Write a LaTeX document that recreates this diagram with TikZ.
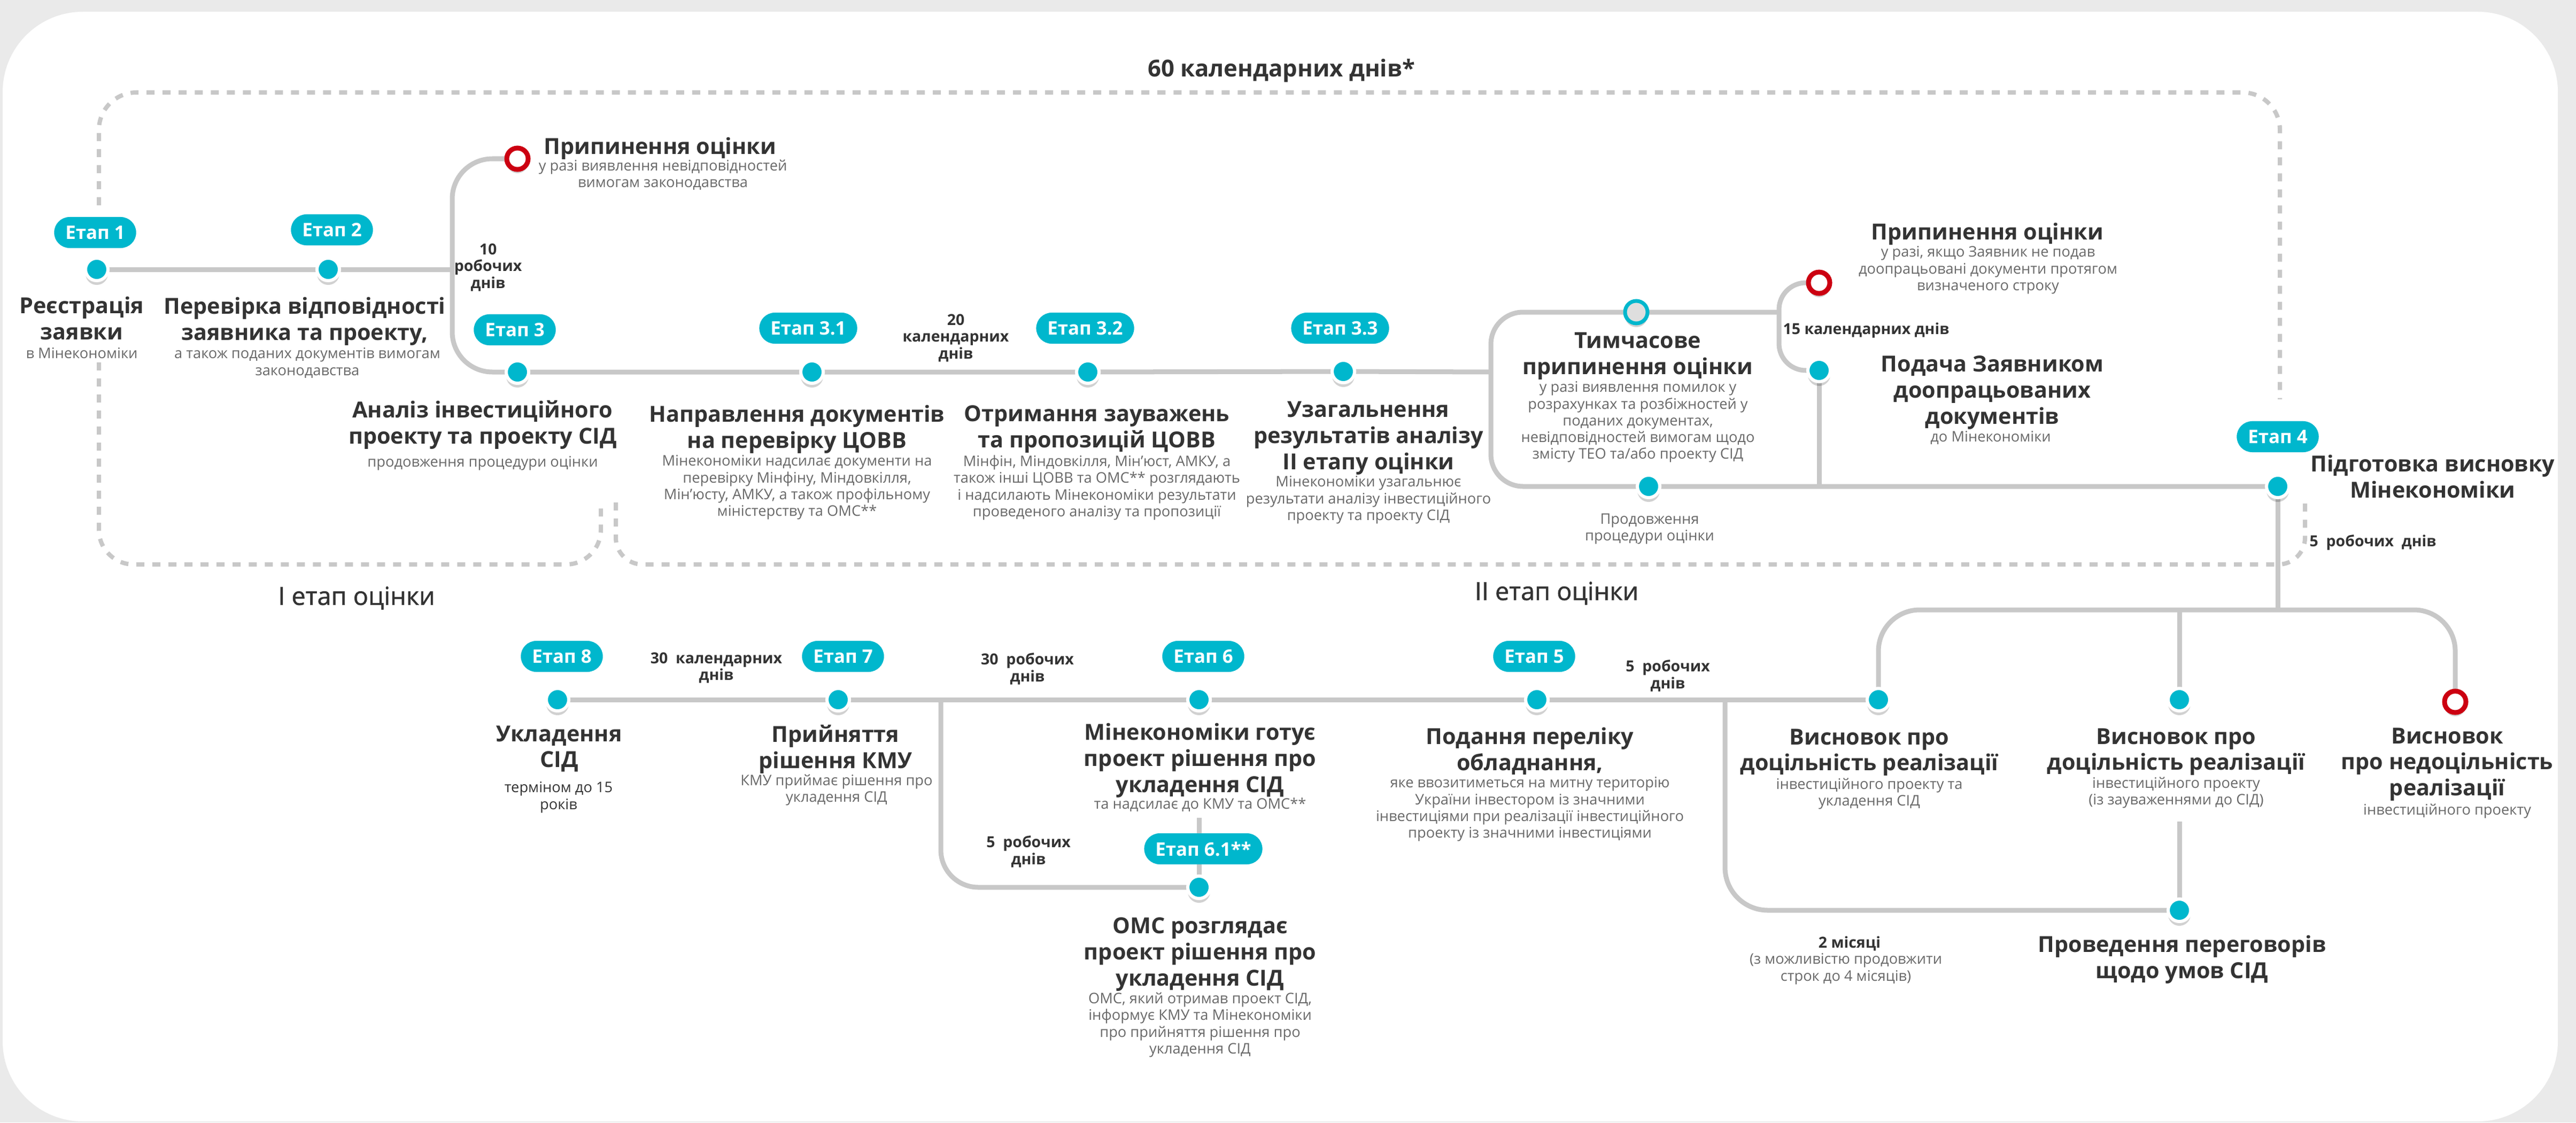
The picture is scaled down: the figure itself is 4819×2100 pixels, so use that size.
\documentclass[tikz,border=0pt]{standalone}
\usepackage{fontspec}
\setmainfont{Open Sans}
\newfontfamily\medfont{Open Sans}[FakeBold=1.2]
\usetikzlibrary{shadows,calc}
\definecolor{etap}{RGB}{0,183,205}
\definecolor{lnc}{RGB}{200,200,200}
\definecolor{dshc}{RGB}{200,200,200}
\definecolor{txt}{RGB}{51,51,51}
\definecolor{subc}{RGB}{105,105,105}
\definecolor{redc}{RGB}{204,0,17}
\definecolor{bgc}{RGB}{234,234,234}
\pgfdeclarelayer{back}\pgfdeclarelayer{bg}
\pgfsetlayers{back,bg,main}
\begin{document}
\begin{tikzpicture}[x=0.01cm,y=-0.01cm,
  dot/.style={circle,fill=etap,draw=white,line width=0.06cm,minimum size=0.42cm,inner sep=0,
    drop shadow={shadow xshift=0cm,shadow yshift=-0.08cm,opacity=0.18,fill=black}},
  rring/.style={circle,fill=white,draw=redc,line width=0.09cm,minimum size=0.40cm,inner sep=0,
    drop shadow={shadow xshift=0cm,shadow yshift=-0.07cm,opacity=0.18,fill=black}},
  tring/.style={circle,fill=black!13,draw=etap,line width=0.07cm,minimum size=0.42cm,inner sep=0,
    drop shadow={shadow xshift=0cm,shadow yshift=-0.07cm,opacity=0.18,fill=black}},
  badge/.style={rectangle,rounded corners=0.29cm,fill=etap,text=white,
    font=\bfseries\fontsize{9.9}{11}\selectfont,minimum height=0.58cm,inner xsep=0.21cm,inner ysep=0},
  ttl/.style={font=\bfseries\fontsize{11.75}{13.9}\selectfont,text=txt,align=center,inner sep=0,
    anchor=north,yshift=9.73pt,execute at begin node=\strut},
  sub/.style={font=\fontsize{7.75}{8.9}\selectfont,text=subc,align=center,inner sep=0,
    anchor=north,yshift=6.23pt,execute at begin node=\strut},
  dsub/.style={sub,text=txt},
  lab/.style={font=\bfseries\fontsize{8.1}{9}\selectfont,text=txt,align=center,inner sep=0,
    anchor=north,yshift=6.3pt,execute at begin node=\strut},
  phase/.style={font=\medfont\fontsize{13.3}{15}\selectfont,text=txt,align=center,inner sep=0,
    anchor=north,yshift=10.5pt,execute at begin node=\strut},
  ln/.style={draw=lnc,line width=0.09cm},
  dsh/.style={draw=dshc,line width=0.08cm,dash pattern=on 0.15cm off 0.15cm}
]
\useasboundingbox (0,0) rectangle (4819,2100);
\begin{pgfonlayer}{back}
  \fill[bgc] (0,0) rectangle (4819,2100);
  \fill[white,rounded corners=1.5cm] (5,22) rectangle (4785,2098);
\end{pgfonlayer}

% ---------- dots ----------
\node[dot] (d1) at (181,504) {};
\node[dot] (d2) at (614,504) {};
\node[dot] (d3) at (968,696) {};
\node[dot] (d31) at (1519,696) {};
\node[dot] (d32) at (2035,696) {};
\node[dot] (d33) at (2513,695) {};
\node[dot] (dtb) at (3084,910) {};
\node[dot] (dpod) at (3403,693) {};
\node[dot] (d4) at (4261,910) {};
\node[dot] (d8) at (1043,1309) {};
\node[dot] (d7) at (1568,1309) {};
\node[dot] (d6) at (2243,1309) {};
\node[dot] (d61) at (2243,1660) {};
\node[dot] (d5) at (2875,1309) {};
\node[dot] (dv1) at (3514,1309) {};
\node[dot] (dv2) at (4077,1309) {};
\node[dot] (dper) at (4077,1703) {};
\node[rring] (r1) at (968,297) {};
\node[rring] (r2) at (3403,529) {};
\node[rring] (r3) at (4593,1313) {};
\node[tring] (rt) at (3061,584) {};

% ---------- junctions ----------
\coordinate (j1) at (846,504);
\coordinate (j2) at (2789,696);
\coordinate (j3) at (3328,584);
\coordinate (bx) at (2789,584);
\coordinate (bxb) at (2789,910);
\coordinate (j4) at (4261,1141);
\coordinate (j6) at (4077,1537);
\coordinate (j7) at (1760,1309);
\coordinate (j8) at (2243,1530);
\coordinate (j9) at (3227,1309);
\coordinate (f1) at (185,384);
\coordinate (f2) at (185,173);
\coordinate (f3) at (4265,173);
\coordinate (f4) at (4265,747);
\coordinate (g1) at (185,678);
\coordinate (g2) at (185,1056);
\coordinate (g3) at (1124,1056);
\coordinate (g4) at (1124,940);
\coordinate (h1) at (1152,940);
\coordinate (h2) at (1152,1056);
\coordinate (h3) at (4312,1056);
\coordinate (h4) at (4312,938);

% ---------- connectors ----------
\begin{pgfonlayer}{bg}
  \draw[ln] (d1.center) -- (d2.center) -- (j1);
  \draw[ln,rounded corners=0.75cm] (r1.center) -- (r1.center -| j1) -- (j1 |- d3.center) -- (d3.center);
  \draw[ln] (d3.center) -- (d31.center) -- (d32.center) -- (d33.center) -- (j2);
  \draw[ln,rounded corners=0.6cm] (j3) -- (bx) -- (bxb) -- (d4.center);
  \draw[ln,rounded corners=0.5cm] (r2.center) -- (r2.center -| j3) -- (j3 |- dpod.center) -- (dpod.center);
  \draw[ln] (dpod.center) -- (dpod.center |- d4.center);
  \draw[ln] (d4.center) -- (j4);
  \draw[ln,rounded corners=0.77cm] (dv1.center) -- (dv1.center |- j4) -- (j4 -| r3.center) -- (r3.center);
  \draw[ln] (dv2.center |- j4) -- (dv2.center);
  \draw[ln] (j6) -- (dper.center);
  \draw[ln] (d8.center) -- (d7.center) -- (d6.center) -- (d5.center) -- (dv1.center);
  \draw[ln,rounded corners=0.7cm] (j7) -- (j7 |- d61.center) -- (d61.center);
  \draw[ln] (j8) -- (d61.center);
  \draw[ln,rounded corners=0.8cm] (j9) -- (j9 |- dper.center) -- (dper.center);
  \draw[dsh,rounded corners=0.7cm] (f1) -- (f2) -- (f3) -- (f4);
  \draw[dsh,rounded corners=0.65cm] (g1) -- (g2) -- (g3) -- (g4);
  \draw[dsh,rounded corners=0.5cm] (h1) -- (h2) -- (h3) -- (h4);
\end{pgfonlayer}

% ---------- badges ----------
\node[badge] (b1) at (178,435) {Етап 1};
\node[badge] (b2) at (621,430) {Етап 2};
\node[badge] (b3) at (963,617) {Етап 3};
\node[badge] (b31) at (1512,614) {Етап 3.1};
\node[badge] (b32) at (2030,614) {Етап 3.2};
\node[badge] (b33) at (2507,614) {Етап 3.3};
\node[badge] (b4) at (4261,817) {Етап 4};
\node[badge] (b8) at (1051,1228) {Етап 8};
\node[badge] (b7) at (1577,1228) {Етап 7};
\node[badge] (b6) at (2251,1228) {Етап 6};
\node[badge] (b61) at (2251,1588) {Етап 6.1**};
\node[badge] (b5) at (2870,1228) {Етап 5};

% ---------- phase labels ----------
\node[phase,font=\bfseries\fontsize{12.4}{15}\selectfont] (p60) at (2397,143) {60 календарних днів*};
\node[phase] (pI) at (667,1131) {I етап оцінки};
\node[phase] (pII) at (2912,1122) {II етап оцінки};

% ---------- titles ----------
\node[ttl] (t1) at (153,589) {Реєстрація\\заявки};
\node[ttl] (t2) at (570,590) {Перевірка відповідності\\заявника та проекту,};
\node[ttl] (t3) at (903,783) {Аналіз інвестиційного\\проекту та проекту СІД};
\node[ttl] (t31) at (1491,792) {Направлення документів\\на перевірку ЦОВВ};
\node[ttl] (t32) at (2052,792) {Отримання зауважень\\та пропозицій ЦОВВ};
\node[ttl] (t33) at (2560,785) {Узагальнення\\результатів аналізу\\II етапу оцінки};
\node[ttl] (tt) at (3064,656) {Тимчасове\\припинення оцінки};
\node[ttl] (tp1) at (1235,288) {Припинення оцінки};
\node[ttl] (tp2) at (3718,448) {Припинення оцінки};
\node[ttl] (tpod) at (3727,699) {Подача Заявником\\доопрацьованих\\документів};
\node[ttl] (t4) at (4551,885) {Підготовка висновку\\Мінекономіки};
\node[ttl] (t8) at (1046,1391) {Укладення\\СІД};
\node[ttl] (t7) at (1563,1390) {Прийняття\\рішення КМУ};
\node[ttl] (t6) at (2245,1387) {Мінекономіки готує\\проект рішення  про\\укладення СІД};
\node[ttl] (t61) at (2245,1750) {ОМС розглядає\\проект рішення про\\укладення СІД};
\node[ttl] (t5) at (2862,1395) {Подання переліку\\обладнання,};
\node[ttl] (tv1) at (3497,1397) {Висновок про\\доцільність реалізації};
\node[ttl] (tv2) at (4071,1396) {Висновок про\\доцільність реалізації};
\node[ttl] (tv3) at (4578,1395) {Висновок\\про недоцільність\\реалізації};
\node[ttl] (tper) at (4082,1784) {Проведення переговорів\\щодо умов СІД};

% ---------- subtitles ----------
\node[sub] (s1) at (153,670) {в Мінекономіки};
\node[sub] (s2) at (575,672) {а також поданих документів вимогам\\законодавства};
\node[sub] (s3) at (903,873) {продовження процедури оцінки};
\node[sub] (s31) at (1491,873) {Мінекономіки надсилає документи на\\перевірку  Мінфіну, Міндовкілля,\\Мін’юсту, АМКУ, а також профільному\\міністерству та ОМС**};
\node[sub] (s32) at (2052,873) {Мінфін, Міндовкілля, Мін’юст, АМКУ, а\\також інші ЦОВВ та ОМС** розглядають\\і надсилають Мінекономіки результати\\проведеного аналізу та пропозиції};
\node[sub] (s33) at (2560,912) {Мінекономіки узагальнює\\результати аналізу інвестиційного\\проекту та проекту СІД};
\node[sub] (st) at (3064,735) {у разі виявлення  помилок у\\розрахунках та розбіжностей у\\поданих документах,\\невідповідностей вимогам щодо\\змісту ТЕО та/або проекту СІД};
\node[sub] (sprod) at (3086,982) {Продовження\\процедури оцінки};
\node[sub] (sp1) at (1240,320) {у разі виявлення невідповідностей\\вимогам законодавства};
\node[sub] (sp2) at (3719,482) {у разі, якщо Заявник не подав\\доопрацьовані  документи протягом\\визначеного строку};
\node[sub] (spod) at (3724,826) {до Мінекономіки};
\node[dsub] (s8) at (1045,1484) {терміном до 15\\років};
\node[sub] (s7) at (1565,1470) {КМУ приймає рішення про\\укладення СІД};
\node[sub] (s6) at (2245,1513) {та надсилає до КМУ та ОМС**};
\node[sub] (s61) at (2245,1878) {ОМС, який отримав проект СІД,\\інформує КМУ та Мінекономіки\\про прийняття рішення  про\\укладення СІД};
\node[sub] (s5) at (2862,1475) {яке ввозитиметься на митну територію\\України інвестором із значними\\інвестиціями  при реалізації інвестиційного\\проекту із значними інвестиціями};
\node[sub] (sv1) at (3497,1477) {інвестиційного проекту та\\укладення СІД};
\node[sub] (sv2) at (4071,1475) {інвестиційного проекту\\(із зауваженнями до СІД)};
\node[sub] (sv3) at (4578,1524) {інвестиційного проекту};
\node[sub] (s2m) at (3453,1805) {(з можливістю продовжити\\строк до 4 місяців)};

% ---------- duration labels ----------
\node[lab] (l10) at (913,477) {10\\робочих\\днів};
\node[lab] (l20) at (1788,609) {20\\календарних\\днів};
\node[lab] (l15) at (3491,625) {15 календарних днів};
\node[lab] (l5a) at (4439,1022) {5~~робочих~~днів};
\node[lab] (l30k) at (1340,1242) {30~~календарних\\днів};
\node[lab] (l30r) at (1922,1243) {30~~робочих\\днів};
\node[lab] (l5b) at (1924,1585) {5~~робочих\\днів};
\node[lab] (l5c) at (3120,1256) {5~~робочих\\днів};
\node[lab] (l2m) at (3460,1773) {2 місяці};
\end{tikzpicture}
\end{document}
